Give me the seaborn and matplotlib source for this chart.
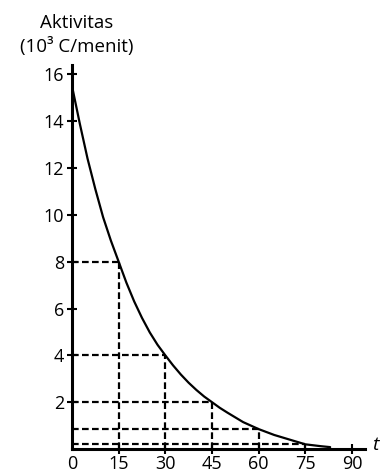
import numpy as np
import pandas as pd
import seaborn as sns
import matplotlib
matplotlib.use("Agg")
import matplotlib.pyplot as plt

# values
waktu = [0, 2.5, 5, 7.5, 10, 12.5, 15, 17.5, 20, 22.5, 25, 27.5, 30, 32.5, 35,
         37.5, 40, 42.5, 45, 47.5, 50, 55, 60, 65, 70, 75, 80, 83]
aktivitas = [15.5, 13.9, 12.4, 11.1, 9.9, 8.9, 8.0, 7.1, 6.3, 5.6, 4.98, 4.45,
             4.0, 3.57, 3.18, 2.83, 2.52, 2.24, 2.0, 1.76, 1.55, 1.15, 0.85,
             0.6, 0.4, 0.2, 0.12, 0.08]

bantu_t = [15, 30, 45, 60, 75]
bantu_a = [8, 4, 2, 0.85, 0.2]

x_ticks = [15, 30, 45, 60, 75, 90]
x_labels = ["0", "15", "30", "45", "60", "75", "90"]
y_ticks = [2, 4, 6, 8, 10, 12, 14, 16]

sns.set_style("ticks")
plt.rcParams["font.family"] = ["Open Sans", "DejaVu Sans"]
plt.rcParams["text.color"] = "black"

fig = plt.figure(figsize=(3.82, 4.74), dpi=100)
ax = fig.add_axes([72 / 382, 1 - 449 / 474, 293 / 382, 384 / 474])

df = pd.DataFrame({"t": waktu, "A": aktivitas})
sns.lineplot(data=df, x="t", y="A", ax=ax, color="black", linewidth=1.6)

# dashed guide lines
ax.hlines(bantu_a, 0, bantu_t, colors="black", linestyles=(0, (3, 1.5)), linewidth=1.6)
ax.vlines(bantu_t, 0, bantu_a, colors="black", linestyles=(0, (3, 1.5)), linewidth=1.6)

ax.set_xlim(0, 94.2)
ax.set_ylim(0, 16.4)
sns.despine(ax=ax)
for s in ["left", "bottom"]:
    ax.spines[s].set_linewidth(2.2)
    ax.spines[s].set_color("black")

ax.set_xticks([0] + x_ticks)
ax.set_xticklabels(x_labels)
ax.set_yticks(y_ticks)
ax.tick_params(axis="both", direction="inout", length=7, width=1.5, color="black",
               labelsize=13, labelcolor="black")
ax.tick_params(axis="y", pad=2)
ax.tick_params(axis="x", pad=0.5)
ax.xaxis.get_major_ticks()[0].tick1line.set_visible(False)
ax.set_xlabel("")
ax.set_ylabel("")

fig.text(77 / 382, 1 - 28 / 474, "Aktivitas", ha="center", va="baseline", fontsize=13.5)
fig.text(77 / 382, 1 - 52 / 474, "(10³ C/menit)", ha="center", va="baseline", fontsize=13.5)
fig.text(375 / 382, 1 - 450 / 474, "t", ha="center", va="baseline", fontsize=14, style="italic")

fig.savefig("out.png", dpi=100)
